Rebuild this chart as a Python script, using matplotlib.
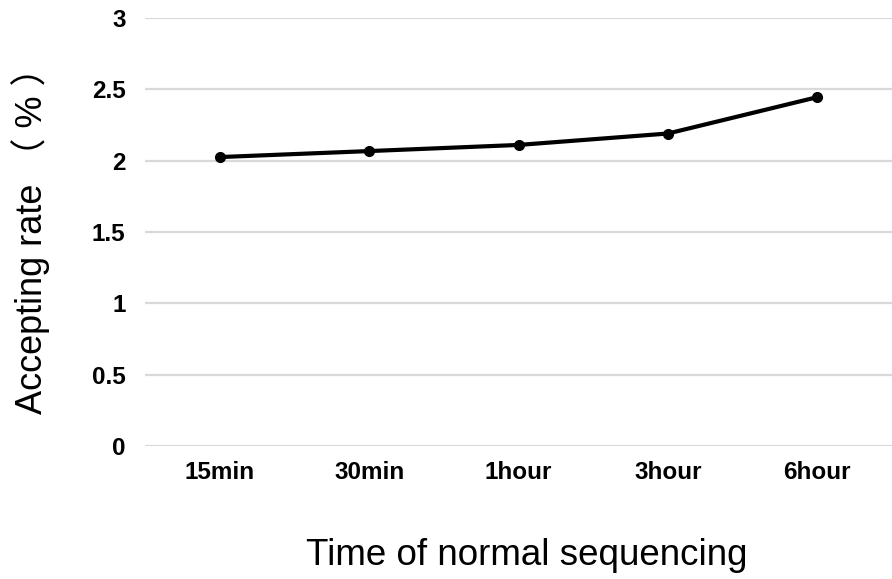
import matplotlib
matplotlib.use('Agg')
import matplotlib.pyplot as plt

# data
times = ['15min', '30min', '1hour', '3hour', '6hour']
rates = [2.025, 2.067, 2.11, 2.19, 2.445]

plt.rcParams['font.family'] = ['Liberation Sans', 'Noto Sans CJK SC', 'DejaVu Sans']

fig = plt.figure(figsize=(8.92, 5.79), dpi=100)
ax = fig.add_axes([0.1626, 0.2297, 0.8374, 0.7393])

x = list(range(len(times)))
ax.plot(x, rates, color='black', linewidth=3, marker='o', markersize=7, zorder=3)

ax.set_xlim(-0.5, len(times) - 0.5)
ax.set_ylim(0, 3)
ax.set_yticks([0, 0.5, 1, 1.5, 2, 2.5, 3])
ax.set_yticklabels(['0', '0.5', '1', '1.5', '2', '2.5', '3'])
ax.set_xticks(x)
ax.set_xticklabels(times)

ax.grid(axis='y', color='#d9d9d9', linewidth=1.6, zorder=1)
ax.set_axisbelow(True)
for s in ax.spines.values():
    s.set_visible(False)
ax.tick_params(axis='both', length=0, labelsize=17.5)
ax.tick_params(axis='y', pad=14)
ax.tick_params(axis='x', pad=11)
for lab in ax.get_xticklabels() + ax.get_yticklabels():
    lab.set_fontweight('bold')

fig.text(0.034, 0.60, 'Accepting rate （ % ）', rotation=90, fontsize=26,
         ha='center', va='center')
fig.text(0.591, 0.041, 'Time of normal sequencing', fontsize=26.5,
         ha='center', va='center')

fig.savefig('out.png', dpi=100)
